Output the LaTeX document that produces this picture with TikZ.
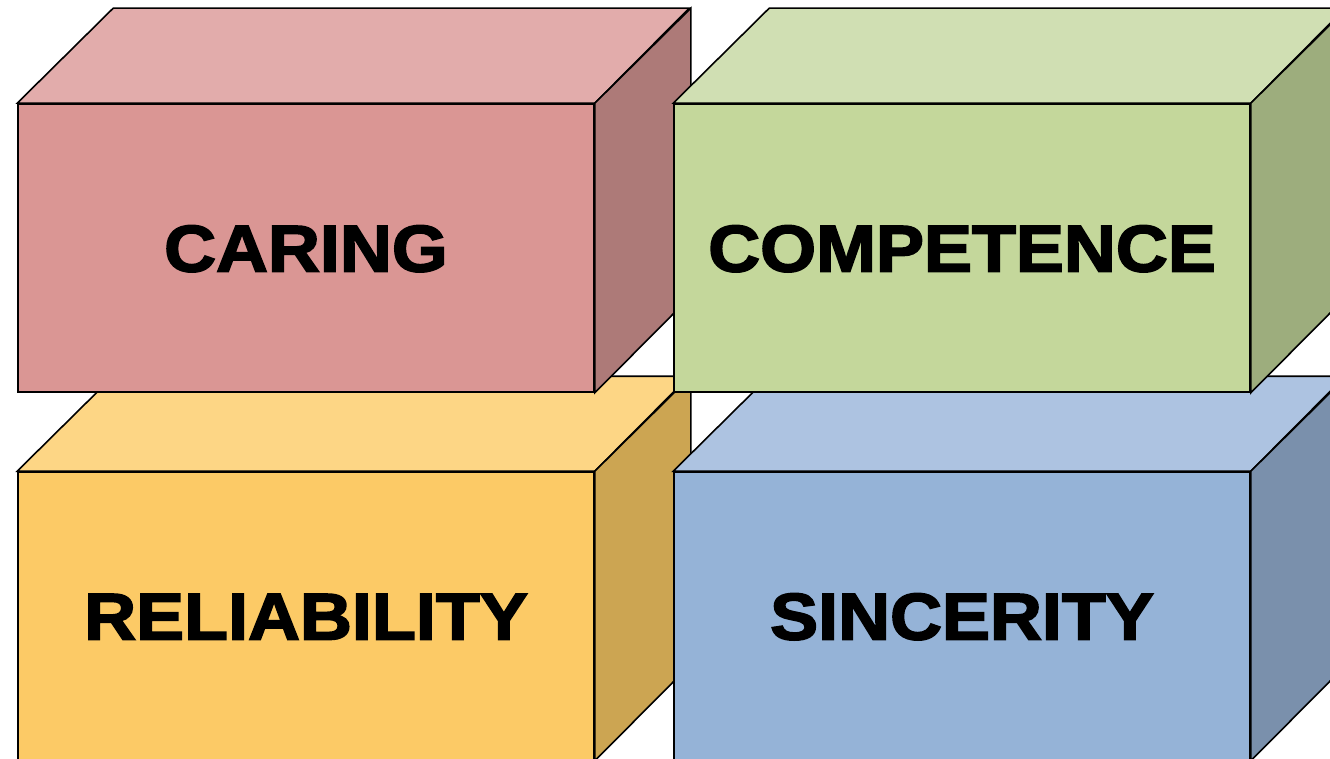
\documentclass[tikz,border=0pt]{standalone}
\usepackage{fontspec}
\newfontfamily\heavy{Liberation Sans Bold}[FakeBold=2.6, FakeStretch=1.09]

\definecolor{redfront}{HTML}{DA9694}
\definecolor{redtop}{HTML}{E2ACAB}
\definecolor{redside}{HTML}{AD7A78}
\definecolor{greenfront}{HTML}{C4D79B}
\definecolor{greentop}{HTML}{D0DFB3}
\definecolor{greenside}{HTML}{9DAD7D}
\definecolor{yellowfront}{HTML}{FCCA66}
\definecolor{yellowtop}{HTML}{FDD685}
\definecolor{yellowside}{HTML}{CCA552}
\definecolor{bluefront}{HTML}{95B3D7}
\definecolor{bluetop}{HTML}{ADC3E1}
\definecolor{blueside}{HTML}{7A90AC}

\tikzset{
  face/.style={draw=black, line width=1.6pt},
  frontface/.style={face, rectangle, minimum width=576pt, minimum height=288pt,
    inner sep=0pt, text height=47pt, text depth=0pt,
    font=\heavy\fontsize{66}{66}\selectfont},
}

% a block: front face as a named node, top and side faces attached to it
\newcommand{\block}[6]{%
  \node[frontface, fill=#3] (#1) at #2 {#6};
  \draw[face, fill=#4] (#1.north west) -- ++(96,-95) -- ++(576,0)
    -- (#1.north east) -- cycle;
  \draw[face, fill=#5] (#1.north east) -- ++(96,-95) -- ++(0,288)
    -- (#1.south east) -- cycle;
}

\begin{document}
\begin{tikzpicture}[x=1pt, y=-1pt]
  \useasboundingbox (0,0) rectangle (1330,759);
  \clip (0,0) rectangle (1330,759);
  % lower row
  \block{reliability}{(306,616)}{yellowfront}{yellowtop}{yellowside}{RELIABILITY}
  \block{sincerity}{(962,616)}{bluefront}{bluetop}{blueside}{SINCERITY}
  % upper row
  \block{caring}{(306,248)}{redfront}{redtop}{redside}{CARING}
  \block{competence}{(962,248)}{greenfront}{greentop}{greenside}{COMPETENCE}
\end{tikzpicture}
\end{document}
